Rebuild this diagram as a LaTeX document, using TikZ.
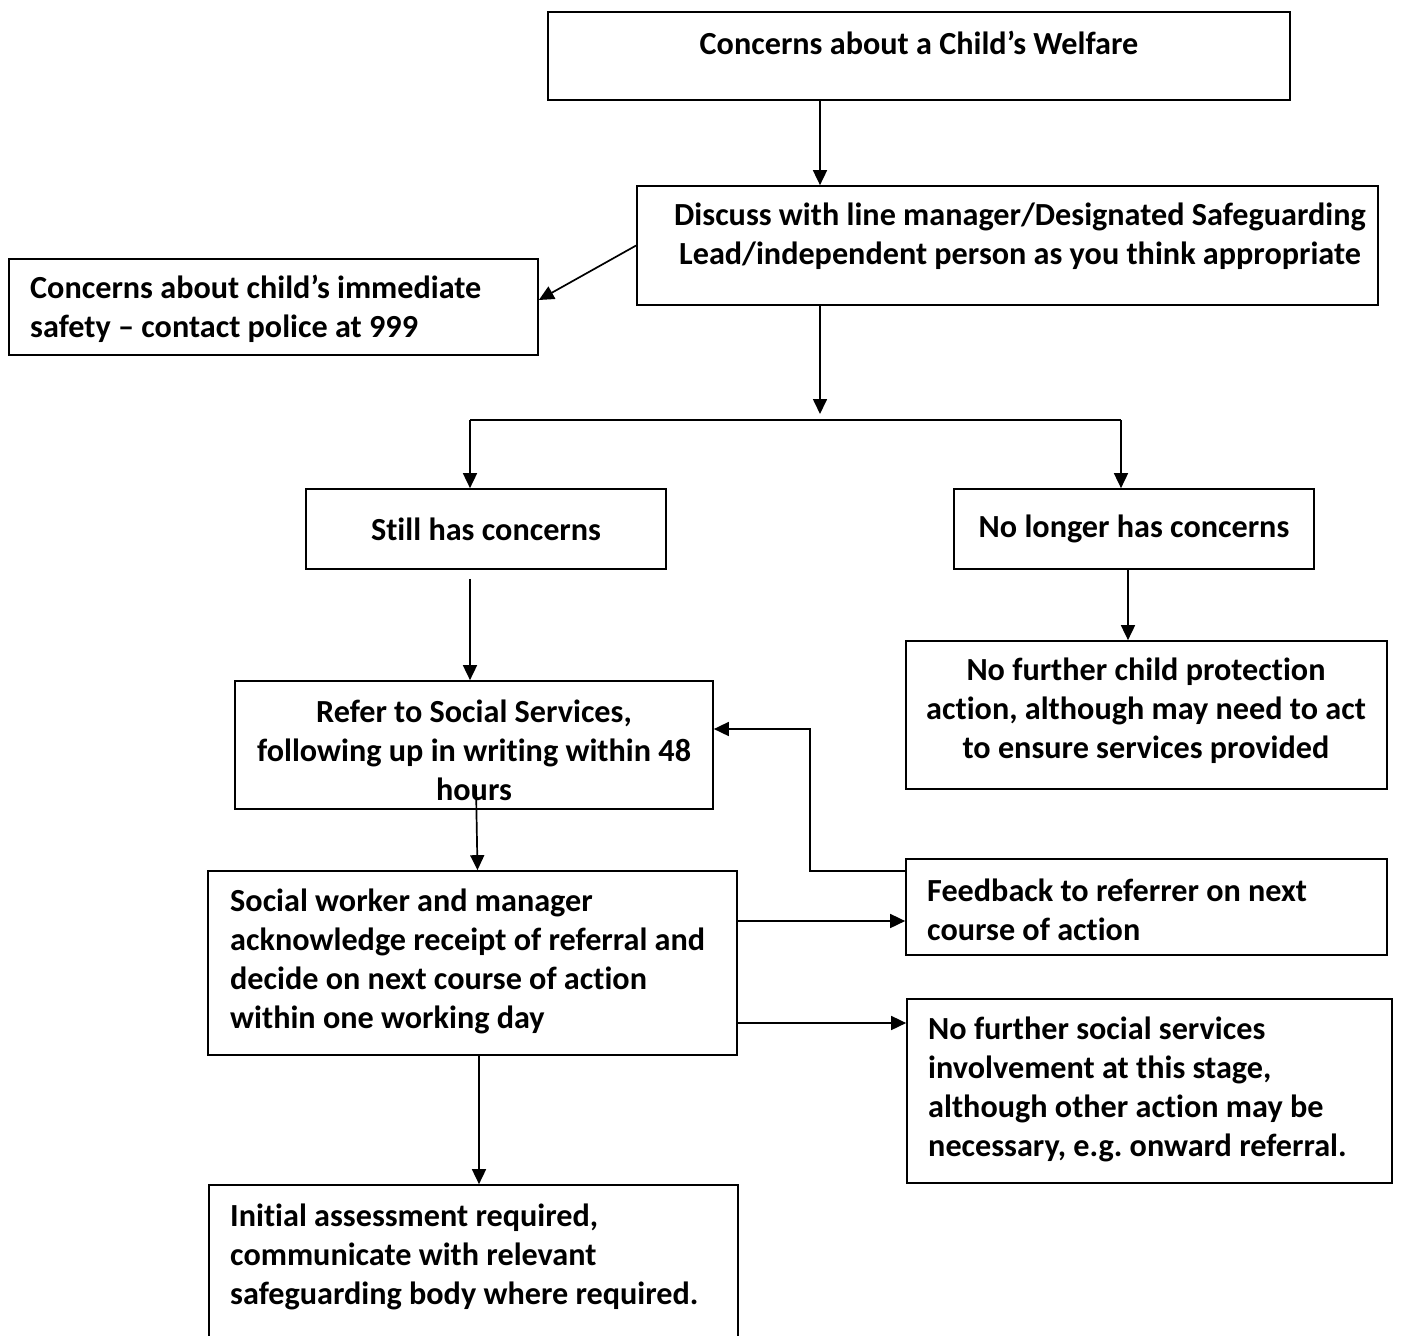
\documentclass[tikz,border=0pt]{standalone}
\usepackage{fontspec}
\setmainfont{Carlito}[Ligatures=NoCommon]
\usetikzlibrary{arrows.meta}
\frenchspacing
\begin{document}
\begin{tikzpicture}[x=1pt,y=-1pt,
  box/.style={draw, line width=1.7pt, inner sep=0pt},
  txt/.style={inner sep=0pt, font=\bfseries\fontsize{32.2}{39}\selectfont},
  arr/.style={line width=1.7pt, -{Triangle[length=15pt,width=14pt]}},
  ln/.style={line width=1.7pt}]
\useasboundingbox (0,0) rectangle (1406,1336);
% boxes
\node[box, minimum width=742pt, minimum height=88pt] (top) at (919,56) {};
\node[box, minimum width=741pt, minimum height=119pt] (disc) at (1007.5,245.5) {};
\node[box, minimum width=529pt, minimum height=96pt] (left) at (273.5,307) {};
\node[box, minimum width=360pt, minimum height=80pt] (still) at (486,529) {};
\node[box, minimum width=360pt, minimum height=80pt] (nolonger) at (1134,529) {};
\node[box, minimum width=481pt, minimum height=148pt] (nofurther) at (1146.5,715) {};
\node[box, minimum width=478pt, minimum height=128pt] (refer) at (474,745) {};
\node[box, minimum width=529pt, minimum height=184pt] (social) at (472.5,963) {};
\node[box, minimum width=481pt, minimum height=96pt] (feed) at (1146.5,907) {};
\node[box, minimum width=485pt, minimum height=184pt] (nfss) at (1149.5,1091) {};
\node[box, minimum width=529pt, minimum height=170pt] (init) at (473.5,1270) {};
% texts
\node[txt] (toptxt) at (919,43) {Concerns about a Child’s Welfare};
\node[txt, align=center] (disctxt) at (1020,236) {Discuss with line manager/Designated Safeguarding\\Lead/independent person as you think appropriate};
\node[txt, align=left, anchor=west] (lefttxt) at (30,309) {Concerns about child’s immediate\\safety – contact police at 999};
\node[txt] (stilltxt) at (486,529) {Still has concerns};
\node[txt] (nolongertxt) at (1134,529) {No longer has concerns};
\node[txt, align=center] (nofurthertxt) at (1146,711) {No further child protection\\action, although may need to act\\to ensure services provided};
\node[txt, align=center] (refertxt) at (474,750) {Refer to Social Services,\\following up in writing within 48\\hours};
\node[txt, align=left, anchor=west] (socialtxt) at (230,961) {Social worker and manager\\acknowledge receipt of referral and\\decide on next course of action\\within one working day};
\node[txt, align=left, anchor=west] (feedtxt) at (927,910) {Feedback to referrer on next\\course of action};
\node[txt, align=left, anchor=west] (nfsstxt) at (928,1089) {No further social services\\involvement at this stage,\\although other action may be\\necessary, e.g. onward referral.};
\node[txt, align=left, anchor=west] (inittxt) at (230,1257) {Initial assessment required,\\communicate with relevant\\safeguarding body where required.};
% connectors
\coordinate (jM) at (820,414);
\coordinate (jL) at (470,420);
\coordinate (jR) at (1121,420);
\coordinate (fb) at (810,729);
\draw[arr] ([xshift=-99pt]top.south) -- ([xshift=-99pt]top.south |- disc.north);
\draw[arr] (disc.west) -- ([yshift=7pt]left.east);
\draw[arr] ([xshift=-187.5pt]disc.south) -- (jM);
\draw[ln] (jL) -- (jR);
\draw[arr] (jL) -- (jL |- still.north);
\draw[arr] (jR) -- (jR |- nolonger.north);
\draw[arr] ([xshift=-6pt]nolonger.south) -- ([xshift=-6pt]nolonger.south |- nofurther.north);
\draw[arr] ([xshift=-16pt,yshift=-9pt]still.south) -- ([xshift=-16pt]still.south |- refer.north);
\draw[arr] ([xshift=2pt,yshift=24pt]refer.south) -- ([xshift=5pt]social.north);
\draw[arr] ([yshift=36pt]feed.west) -| (fb) -- (fb -| refer.east);
\draw[arr] ([yshift=42pt]social.east) -- ([yshift=42pt]social.east -| feed.west);
\draw[arr] ([yshift=-60pt]social.east) -- ([yshift=-60pt]social.east -| nfss.west);
\draw[arr] ([xshift=6.5pt]social.south) -- ([xshift=6.5pt]social.south |- init.north);
\end{tikzpicture}
\end{document}
